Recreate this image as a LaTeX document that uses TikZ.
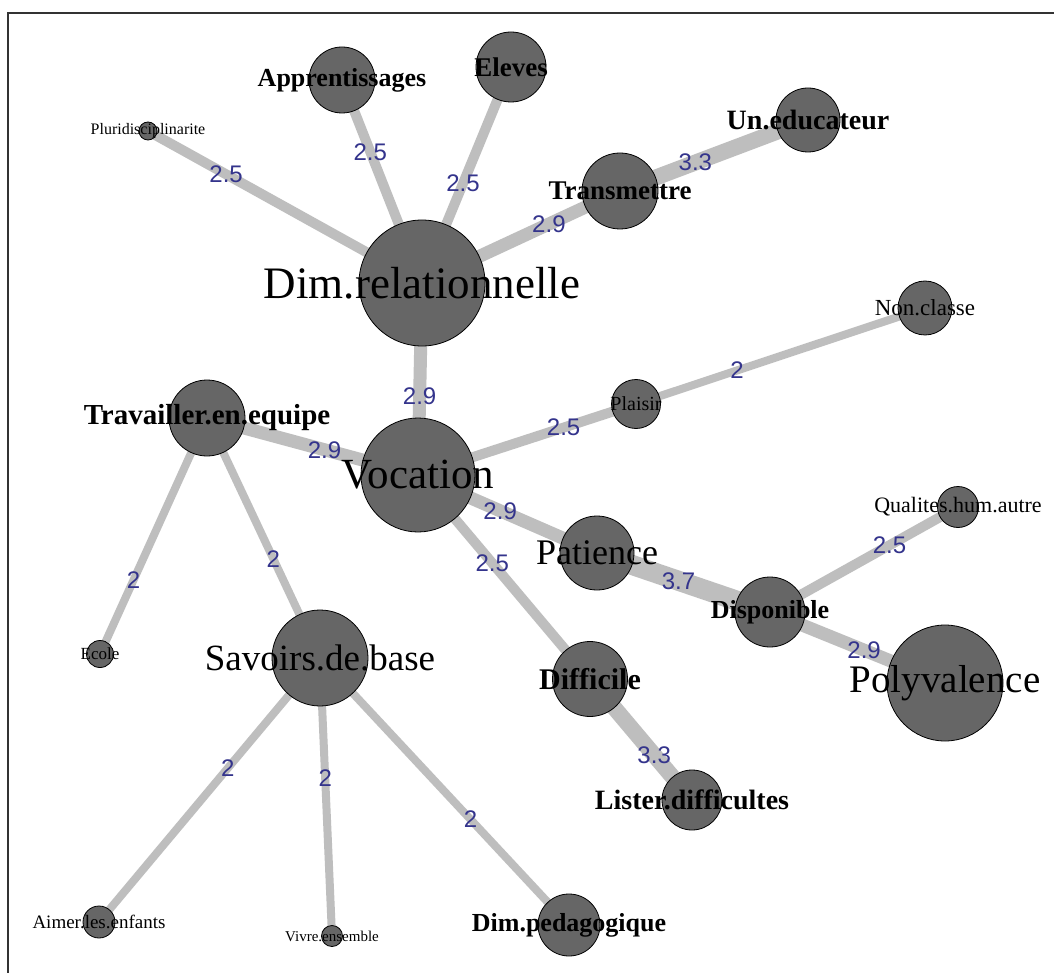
\documentclass[tikz,border=0pt]{standalone}
\usepackage{fontspec}
\setmainfont{Liberation Serif}
\newfontfamily\numfont{Liberation Sans}
\usetikzlibrary{backgrounds}
\definecolor{vfill}{RGB}{102,102,102}
\definecolor{efill}{RGB}{190,190,190}
\definecolor{wnum}{RGB}{52,52,140}
\tikzset{
  vert/.style={circle, draw=black, line width=0.8pt, fill=vfill, inner sep=0pt, minimum size=#1},
  tag/.style={font=\fontsize{#1}{#1}\selectfont, inner sep=0pt},
  btag/.style={font=\fontsize{#1}{#1}\selectfont\bfseries, inner sep=0pt},
  wlabel/.style={font=\numfont\fontsize{24}{24}\selectfont, text=wnum, inner sep=1pt},
  link/.style={draw=efill, line width=#1}
}
\begin{document}
\begin{tikzpicture}[x=1pt, y=-1pt]
  \useasboundingbox (0,0) rectangle (1054,973);
  % vertices
  \node[vert=126pt, label={[tag=45]center:Dim.relationnelle}] (dimrel) at (422,283) {};
  \node[vert=114pt, label={[tag=43]center:Vocation}] (vocation) at (418,475) {};
  \node[vert=66pt, label={[btag=26]center:Apprentissages}] (apprent) at (342,80) {};
  \node[vert=70pt, label={[btag=27]center:Eleves}] (eleves) at (511,67) {};
  \node[vert=76pt, label={[btag=27]center:Transmettre}] (transm) at (620,191) {};
  \node[vert=64pt, label={[btag=28]center:Un.educateur}] (educ) at (808,120) {};
  \node[vert=18pt, label={[tag=16]center:Pluridisciplinarite}] (plurid) at (148,131) {};
  \node[vert=54pt, label={[tag=23]center:Non.classe}] (nonclasse) at (925,308) {};
  \node[vert=49pt, label={[tag=20]center:Plaisir}] (plaisir) at (636,404) {};
  \node[vert=76pt, label={[btag=29]center:Travailler.en.equipe}] (equipe) at (207,418) {};
  \node[vert=74pt, label={[tag=36]center:Patience}] (patience) at (597,553) {};
  \node[vert=41pt, label={[tag=22]center:Qualites.hum.autre}] (qualites) at (958,507) {};
  \node[vert=70pt, label={[btag=26]center:Disponible}] (dispo) at (770,612) {};
  \node[vert=116pt, label={[tag=39]center:Polyvalence}] (polyv) at (945,683) {};
  \node[vert=75pt, label={[btag=30]center:Difficile}] (difficile) at (590,679) {};
  \node[vert=60pt, label={[btag=28]center:Lister.difficultes}] (lister) at (692,800) {};
  \node[vert=96pt, label={[tag=37]center:Savoirs.de.base}] (savoirs) at (320,658) {};
  \node[vert=27pt, label={[tag=17]center:Ecole}] (ecole) at (100,654) {};
  \node[vert=32pt, label={[tag=19]center:Aimer.les.enfants}] (aimer) at (99,922) {};
  \node[vert=21pt, label={[tag=15]center:Vivre.ensemble}] (vivre) at (332,936) {};
  \node[vert=62pt, label={[btag=26]center:Dim.pedagogique}] (dimped) at (569,925) {};
  % weighted links
  \begin{scope}[on background layer]
    \fill[white] (0,0) rectangle (1054,973);
    \foreach \a/\b/\w/\p/\v in {
      dimrel/plurid/10/0.715/2.5, dimrel/apprent/10/0.646/2.5,
      dimrel/eleves/10/0.461/2.5, dimrel/transm/13/0.641/2.9,
      transm/educ/16/0.401/3.3, dimrel/vocation/13/0.589/2.9,
      vocation/equipe/13/0.443/2.9, vocation/patience/13/0.459/2.9,
      vocation/plaisir/10/0.668/2.5, plaisir/nonclasse/8/0.35/2,
      vocation/difficile/10/0.432/2.5, patience/dispo/20/0.471/3.7,
      dispo/qualites/10/0.636/2.5, dispo/polyv/13/0.538/2.9,
      difficile/lister/16/0.629/3.3, equipe/ecole/8/0.687/2,
      equipe/savoirs/8/0.587/2, savoirs/aimer/8/0.417/2,
      savoirs/vivre/8/0.431/2, savoirs/dimped/8/0.605/2}
      \draw[link=\w pt] (\a.center) -- node[wlabel, pos=\p] {\v} (\b.center);
  \end{scope}
  \draw[line width=1.2pt, black!80] (8,973) -- (8,13) -- (1054,13);
\end{tikzpicture}
\end{document}
